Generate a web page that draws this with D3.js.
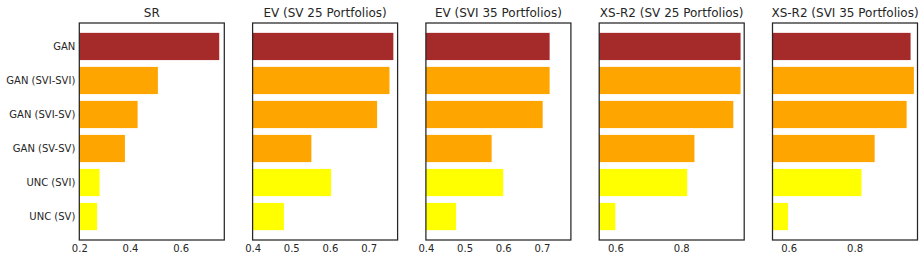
<!DOCTYPE html>
<html>
<head>
<meta charset="utf-8">
<script src="https://cdn.jsdelivr.net/npm/d3@7"></script>
<style>
body { margin: 0; background: #fff; }
text { font-family: "DejaVu Sans", sans-serif; fill: #262626; }
</style>
</head>
<body>
<div id="chart"></div>
<script>
// models, top to bottom
var categories = ["GAN", "GAN (SVI-SVI)", "GAN (SVI-SV)", "GAN (SV-SV)", "UNC (SVI)", "UNC (SV)"];
var colors = ["#a52a2a", "#ffa500", "#ffa500", "#ffa500", "#ffff00", "#ffff00"];

var titles = ["SR", "EV (SV 25 Portfolios)", "EV (SVI 35 Portfolios)", "XS-R2 (SV 25 Portfolios)", "XS-R2 (SVI 35 Portfolios)"];

var sr      = [0.752, 0.51, 0.43, 0.38, 0.28, 0.27];
var evSV    = [0.764, 0.754, 0.722, 0.552, 0.603, 0.481];
var evSVI   = [0.72, 0.72, 0.702, 0.57, 0.60, 0.478];
var xsSV    = [0.98, 0.98, 0.958, 0.84, 0.818, 0.60];
var xsSVI   = [0.97, 0.98, 0.958, 0.861, 0.821, 0.598];

var xDomains = [[0.2, 0.772], [0.4, 0.775], [0.4, 0.775], [0.551, 0.991], [0.551, 0.991]];
var xTicks = [[0.2, 0.4, 0.6], [0.4, 0.5, 0.6, 0.7], [0.4, 0.5, 0.6, 0.7], [0.6, 0.8], [0.6, 0.8]];

var series = [sr, evSV, evSVI, xsSV, xsSVI];

var w = 924, h = 261;
var padTop = 23, padBottom = 240;
var left0 = 79.3, pw = 145, step = 173.3;

var svg = d3.select("#chart").append("svg")
   .attr("width", w)
   .attr("height", h);

// matplotlib style: bars at 0..5 with height .8, 5% margin
var yScale = d3.scaleLinear()
   .domain([-0.69, categories.length - 1 + 0.69])
   .range([padTop, padBottom]);

for (let p = 0; p < series.length; p++) {
   var x0 = left0 + p * step;
   var g = svg.append("g").attr("transform", "translate(" + x0 + ",0)");

   var xScale = d3.scaleLinear()
      .domain(xDomains[p])
      .range([0, pw]);

   g.selectAll("rect")
      .data(series[p])
      .enter()
      .append("rect")
      .attr("x", 0)
      .attr("y", function(d, i) { return yScale(i - 0.4); })
      .attr("width", function(d) { return xScale(d); })
      .attr("height", function(d, i) { return yScale(i + 0.4) - yScale(i - 0.4); })
      .attr("fill", function(d, i) { return colors[i]; });

   var xAxis = d3.axisBottom(xScale)
      .tickValues(xTicks[p])
      .tickSize(0)
      .tickPadding(5)
      .tickFormat(d3.format(".1f"));

   var ax = g.append("g")
      .attr("transform", "translate(0," + padBottom + ")")
      .call(xAxis);
   ax.select(".domain").remove();
   ax.selectAll("text").style("font-size", "10px").attr("fill", "#262626");

   if (p == 0) {
      var yAxis = d3.axisLeft(yScale)
         .tickValues(d3.range(categories.length))
         .tickSize(0)
         .tickPadding(4)
         .tickFormat(function(d) { return categories[d]; });
      var ay = g.append("g").call(yAxis);
      ay.select(".domain").remove();
      ay.selectAll("text").style("font-size", "10px").attr("fill", "#262626");
   }

   // frame
   g.append("rect")
      .attr("x", 0)
      .attr("y", padTop)
      .attr("width", pw)
      .attr("height", padBottom - padTop)
      .attr("fill", "none")
      .attr("stroke", "#262626")
      .attr("stroke-width", 1.25);

   g.append("text")
      .attr("x", pw / 2)
      .attr("y", 17)
      .attr("text-anchor", "middle")
      .style("font-size", "12px")
      .text(titles[p]);
}
</script>
</body>
</html>
